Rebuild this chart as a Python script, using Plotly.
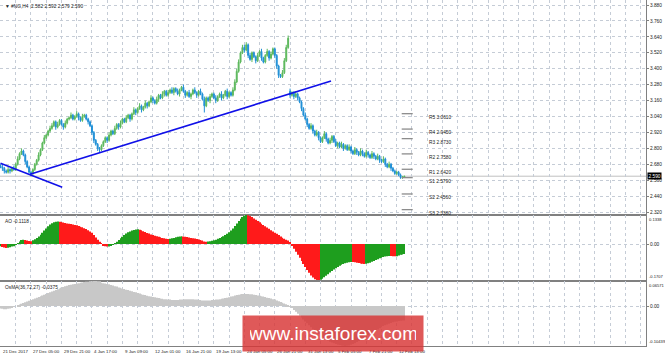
import plotly.graph_objects as go

# ---------------- DATA ----------------
closes = (
    [2.66, 2.65, 2.63, 2.62, 2.64, 2.63, 2.65, 2.64]
    + [2.68, 2.72, 2.76, 2.78, 2.75, 2.70, 2.66, 2.62, 2.61]
    + [2.64, 2.68, 2.71, 2.75, 2.79, 2.84, 2.88, 2.90, 2.93, 2.95]
    + [2.97, 3.00, 2.96, 2.98, 3.01, 2.98, 2.96, 2.99, 3.02]
    + [3.03, 3.05, 3.02, 3.04, 3.06, 3.03, 3.01, 3.04, 3.05, 3.02, 3.00, 2.97]
    + [2.92, 2.86, 2.83, 2.80, 2.79, 2.82]
    + [2.85, 2.88, 2.86, 2.90, 2.93, 2.91, 2.95, 2.98, 2.96, 2.99, 3.02, 3.00, 3.03, 3.05, 3.02]
    + [3.06, 3.09, 3.07, 3.10, 3.12, 3.09, 3.11, 3.14, 3.12, 3.15, 3.18, 3.16, 3.14, 3.17, 3.20, 3.18, 3.21, 3.23, 3.20, 3.22, 3.24]
    + [3.22, 3.25, 3.23, 3.21, 3.24, 3.26, 3.23, 3.20, 3.22, 3.19, 3.21, 3.24, 3.22, 3.20, 3.23, 3.21]
    + [3.17, 3.12, 3.18, 3.16, 3.19, 3.21, 3.18, 3.16, 3.19]
    + [3.21, 3.18, 3.20, 3.23, 3.19, 3.22, 3.20, 3.24]
    + [3.30, 3.38, 3.45, 3.52, 3.56, 3.54]
    + [3.58, 3.50, 3.47, 3.52, 3.49]
    + [3.46, 3.50, 3.53, 3.48, 3.45, 3.50]
    + [3.53, 3.48, 3.51, 3.55, 3.50, 3.42]
    + [3.35, 3.34, 3.37]
    + [3.46, 3.56, 3.63]
    + [3.20, 3.22, 3.19, 3.21, 3.18, 3.15]
    + [3.10, 3.05, 3.02, 2.98, 2.95, 2.97, 2.93, 2.90, 2.92, 2.88, 2.85]
    + [2.88, 2.91, 2.87, 2.84, 2.86, 2.89, 2.85, 2.82, 2.84, 2.81, 2.83, 2.80, 2.82]
    + [2.79, 2.81, 2.78, 2.76, 2.79, 2.77, 2.75, 2.78, 2.76, 2.74, 2.77, 2.75, 2.73, 2.76, 2.74, 2.72, 2.74, 2.71]
    + [2.70, 2.72, 2.68, 2.66, 2.68, 2.65, 2.63, 2.61, 2.62, 2.60, 2.58, 2.582, 2.590]
)
first_open = 2.67
gap_opens = {152: 3.23}

# upper / lower shadows, in hundredths of a price unit
wick_up = (
    [1, 2, 1, 1, 2, 1, 1, 2]
    + [1, 2, 1, 2, 1, 1, 1, 1, 1]
    + [1, 1, 1, 2, 1, 1, 2, 1, 1, 2]
    + [2, 1, 1, 2, 1, 1, 1, 2, 1]
    + [1, 2, 1, 1, 2, 1, 1, 2, 1, 1, 1, 1]
    + [1, 1, 1, 1, 1, 1]
    + [1, 1, 1, 2, 1, 1, 2, 1, 1, 2, 1, 1, 2, 1, 1]
    + [1, 2, 1, 1, 2, 1, 1, 2, 1, 1, 2, 1, 1, 2, 1, 1, 2, 1, 1, 2, 1]
    + [2, 1, 1, 2, 1, 1, 2, 1, 1, 2, 1, 1, 2, 1, 1, 2]
    + [1, 2, 1, 1, 2, 1, 1, 2, 1]
    + [1, 2, 1, 1, 2, 1, 1, 2]
    + [2, 2, 2, 1, 2, 2]
    + [2, 1, 2, 1, 1]
    + [1, 2, 1, 2, 1, 1]
    + [2, 1, 2, 1, 1, 1]
    + [1, 1, 2]
    + [2, 2, 2]
    + [2, 1, 1, 2, 1, 1]
    + [1, 1, 2, 1, 1, 2, 1, 1, 2, 1, 1]
    + [1, 2, 1, 1, 2, 1, 1, 2, 1, 1, 2, 1, 1]
    + [1, 2, 1, 1, 2, 1, 1, 2, 1, 1, 2, 1, 1, 2, 1, 1, 2, 1]
    + [1, 2, 1, 1, 2, 1, 1, 1, 1, 1, 1, 1, 0.2]
)
wick_dn = (
    [1, 2, 2, 1, 1, 2, 1, 1]
    + [1, 1, 1, 1, 1, 2, 1, 1, 2]
    + [1, 1, 1, 1, 1, 1, 1, 1, 1, 1]
    + [1, 1, 2, 1, 1, 1, 2, 1, 1]
    + [1, 1, 1, 1, 1, 2, 1, 1, 1, 1, 2, 1]
    + [2, 2, 1, 2, 2, 1]
    + [1, 1, 2, 1, 1, 1, 1, 1, 2, 1, 1, 1, 1, 1, 2]
    + [1, 1, 2, 1, 1, 2, 1, 1, 2, 1, 1, 2, 1, 1, 2, 1, 1, 2, 1, 1, 1]
    + [1, 2, 1, 1, 2, 1, 1, 2, 1, 1, 2, 1, 1, 2, 1, 1]
    + [1, 5, 1, 1, 2, 1, 1, 2, 1]
    + [1, 2, 1, 1, 2, 1, 1, 1]
    + [1, 1, 1, 1, 1, 2]
    + [1, 2, 1, 2, 1]
    + [2, 1, 1, 2, 1, 1]
    + [1, 2, 1, 1, 2, 2]
    + [2, 1, 1]
    + [1, 1, 1]
    + [2, 1, 2, 1, 2, 1]
    + [2, 1, 1, 2, 1, 1, 2, 1, 1, 2, 1]
    + [1, 1, 2, 1, 1, 2, 1, 1, 2, 1, 1, 2, 1]
    + [1, 1, 2, 1, 1, 2, 1, 1, 2, 1, 1, 2, 1, 1, 2, 1, 1, 2]
    + [1, 1, 2, 1, 1, 2, 1, 1, 1, 1, 1, 1, 0.3]
)

ao_values = (
    [-0.010, -0.014, -0.016, -0.018, -0.017, -0.015, -0.012, -0.010]
    + [-0.004, 0.004, 0.012, 0.018, 0.020, 0.019, 0.016, 0.014, 0.013, 0.017, 0.022, 0.028, 0.035, 0.043, 0.052, 0.062, 0.072]
    + [0.082, 0.090, 0.096, 0.100, 0.103, 0.104, 0.103, 0.101]
    + [0.099, 0.097, 0.095, 0.094, 0.092, 0.090, 0.088, 0.086, 0.083, 0.080, 0.077, 0.073, 0.069, 0.064, 0.058, 0.052, 0.042, 0.030]
    + [0.020, 0.010, 0.002, -0.006, -0.010, -0.012, -0.011, -0.008, -0.004, 0.002]
    + [0.010, 0.018, 0.026, 0.034, 0.041, 0.048, 0.054, 0.058, 0.062, 0.065, 0.067, 0.068, 0.066, 0.063, 0.059]
    + [0.055, 0.051, 0.048, 0.044, 0.041, 0.038, 0.036, 0.034, 0.031, 0.028, 0.026, 0.024, 0.023, 0.024, 0.026]
    + [0.028, 0.031, 0.033, 0.035, 0.036, 0.035, 0.034, 0.032, 0.030, 0.028, 0.026, 0.025, 0.023, 0.021]
    + [0.019, 0.016, 0.012, 0.010, 0.011, 0.013, 0.015, 0.017, 0.020]
    + [0.024, 0.028, 0.032, 0.036, 0.041, 0.047, 0.054, 0.062, 0.072, 0.083, 0.095, 0.106, 0.116, 0.124]
    + [0.130, 0.134, 0.133, 0.129]
    + [0.124, 0.118, 0.112, 0.106, 0.100, 0.094, 0.088, 0.082, 0.076, 0.070, 0.064, 0.058, 0.052, 0.047, 0.041, 0.035, 0.029, 0.024, 0.020, 0.016]
    + [0.006, -0.008, -0.022, -0.036, -0.050, -0.064, -0.078, -0.092, -0.106, -0.120, -0.133, -0.145, -0.155, -0.163, -0.168, -0.1707]
    + [-0.165, -0.160, -0.153, -0.146, -0.139, -0.132, -0.125, -0.118, -0.112, -0.106, -0.100, -0.096, -0.092, -0.089]
    + [-0.086, -0.084, -0.083, -0.083, -0.084, -0.086, -0.088, -0.090, -0.091, -0.092, -0.091, -0.089, -0.086, -0.082, -0.078, -0.074, -0.070]
    + [-0.066, -0.063, -0.060, -0.058, -0.056, -0.055, -0.055, -0.056, -0.057, -0.056, -0.053, -0.050, -0.048, -0.046]
)

osma_values = (
    [-0.006, -0.007, -0.008, -0.008, -0.007, -0.006, -0.004, -0.002, 0.000, 0.002, 0.004]
    + [0.006, 0.008, 0.010, 0.012, 0.014, 0.016, 0.018, 0.020, 0.022, 0.024, 0.026, 0.028, 0.030, 0.032, 0.034,
       0.036, 0.038, 0.040, 0.042, 0.044, 0.046, 0.048, 0.050, 0.052, 0.053, 0.055, 0.056, 0.057, 0.058, 0.059,
       0.060, 0.061, 0.062, 0.063, 0.064, 0.064, 0.065, 0.065, 0.0657, 0.0657, 0.065, 0.065]
    + [0.061, 0.060, 0.059, 0.058, 0.057, 0.055, 0.054, 0.052, 0.051, 0.049, 0.048, 0.046, 0.045, 0.043, 0.042,
       0.040, 0.039, 0.037, 0.036, 0.034, 0.033, 0.031, 0.030, 0.029, 0.027, 0.026, 0.025, 0.024, 0.023, 0.022,
       0.021, 0.020, 0.019, 0.018, 0.018, 0.017, 0.017, 0.016]
    + [0.016, 0.016, 0.016, 0.017, 0.017, 0.017, 0.018, 0.018, 0.018, 0.018, 0.018, 0.017, 0.017, 0.016, 0.016,
       0.015, 0.015, 0.015, 0.015, 0.015, 0.016, 0.016, 0.017, 0.017, 0.018, 0.019, 0.020, 0.021, 0.022, 0.023,
       0.025, 0.026, 0.028, 0.029, 0.030, 0.031]
    + [0.032, 0.032, 0.032, 0.032, 0.031, 0.031, 0.030, 0.029, 0.028, 0.027, 0.026, 0.025, 0.024, 0.022, 0.021,
       0.020, 0.018, 0.017, 0.015, 0.013, 0.011, 0.009, 0.007, 0.005, 0.003]
    + [-0.001, -0.005, -0.010, -0.015, -0.020, -0.025, -0.030, -0.035, -0.040, -0.045, -0.050, -0.055, -0.060,
       -0.065, -0.069, -0.073, -0.077, -0.081, -0.084, -0.087, -0.090, -0.093, -0.095, -0.097, -0.099, -0.101,
       -0.102, -0.103, -0.104, -0.1044]
    + [-0.104, -0.103, -0.101, -0.099, -0.097, -0.094, -0.091, -0.088, -0.085, -0.082, -0.079, -0.076, -0.073,
       -0.070, -0.067, -0.064, -0.061, -0.058, -0.055, -0.052, -0.050, -0.048, -0.046, -0.044, -0.042, -0.041,
       -0.040, -0.039, -0.038, -0.0378, -0.0375]
)

date_labels = ["21 Dec 2017", "27 Dec 05:00", "29 Dec 21:00", "4 Jan 17:00", "9 Jan 09:00",
               "12 Jan 01:00", "16 Jan 21:00", "19 Jan 13:00", "24 Jan 05:00", "26 Jan 21:00",
               "31 Jan 13:00", "5 Feb 05:00", "7 Feb 21:00", "12 Feb 13:00"]
date_label_bars = [0, 16, 32, 48, 64, 80, 96, 112, 128, 144, 160, 176, 192, 208]

price_ticks = [3.880, 3.760, 3.640, 3.520, 3.400, 3.280, 3.160, 3.040, 2.920, 2.800, 2.680, 2.560, 2.440, 2.320]

pivot_names = ["R5", "R4", "R3", "R2", "R1", "S1", "S2", "S3"]
pivot_values = [3.0610, 2.9450, 2.8730, 2.7580, 2.6420, 2.5790, 2.4560, 2.3380]

trend_down_x = [0.0, 32.4]
trend_down_y = [2.687, 2.506]
trend_up_x = [15.5, 173.5]
trend_up_y = [2.604, 3.307]

title_text = "▼ #NG,H4  2.582 2.592 2.579 2.590"
ao_label = "AO -0.1118"
osma_label = "OsMA(36,72,27) -0.0375"
ao_top_label, ao_bottom_label = "0.1338", "-0.1707"
osma_top_label, osma_bottom_label = "0.06571", "-0.10439"
last_price = 2.590

n = len(closes)
assert len(wick_up) == n and len(wick_dn) == n and len(ao_values) == n and len(osma_values) == n, \
    (n, len(wick_up), len(wick_dn), len(ao_values), len(osma_values))

bars = list(range(n))
opens = [first_open] + closes[:-1]
for k, v in gap_opens.items():
    opens[k] = v
highs = [max(o, c) + u * 0.01 for o, c, u in zip(opens, closes, wick_up)]
lows = [min(o, c) - d * 0.01 for o, c, d in zip(opens, closes, wick_dn)]

# ---------------- STYLE / LAYOUT CONSTANTS ----------------
W, H = 665, 356
ML, MR, MT, MB = 0, 19, 0, 10
PLOT_W = W - ML - MR
PX_PER_BAR = 1.905
BAR0_PX = 0.5
X_RANGE = [-BAR0_PX / PX_PER_BAR, (PLOT_W - BAR0_PX) / PX_PER_BAR]
PLOT_H = H - MT - MB
MAIN_BOTTOM_PX, AO_BOTTOM_PX = 215, 281
DOM_MAIN = [(PLOT_H - MAIN_BOTTOM_PX) / PLOT_H, 1.0]
DOM_AO = [(PLOT_H - AO_BOTTOM_PX) / PLOT_H, DOM_MAIN[0]]
DOM_OSMA = [0.0, DOM_AO[0]]
MAIN_RANGE = [2.2975, 3.9177]
AO_RANGE = [-0.1707, 0.1338]
OSMA_RANGE = [-0.10439, 0.06571]
PIVOT_SEG = (210.6, 216.4)
PIVOT_LABEL_X = 223.7

FONT = "Liberation Sans"
FS = 4.8
FS_EDGE = 4.1
GRID = "#c5ccd6"
AXLINE = "#808080"
BULL = "#5cb85c"
BEAR = "#1f8fd6"
AO_UP = "#1e9e1e"
AO_DN = "#ff1a1a"
OSMA_C = "#c8c8c8"

fig = go.Figure()

fig.add_trace(go.Candlestick(
    x=bars, open=opens, high=highs, low=lows, close=closes,
    increasing=dict(line=dict(color=BULL, width=1), fillcolor=BULL),
    decreasing=dict(line=dict(color=BEAR, width=1), fillcolor=BEAR),
    whiskerwidth=0, showlegend=False, xaxis="x", yaxis="y", hoverinfo="skip"))

fig.add_trace(go.Scatter(x=trend_down_x, y=trend_down_y, mode="lines",
                         line=dict(color="#1010e8", width=1.6), showlegend=False, xaxis="x", yaxis="y"))
fig.add_trace(go.Scatter(x=trend_up_x, y=trend_up_y, mode="lines",
                         line=dict(color="#1010e8", width=1.6), showlegend=False, xaxis="x", yaxis="y"))

# pivot segments
px_, py_ = [], []
for v in pivot_values:
    px_ += [PIVOT_SEG[0], PIVOT_SEG[1], None]
    py_ += [v, v, None]
fig.add_trace(go.Scatter(x=px_, y=py_, mode="lines", line=dict(color="#8c8c8c", width=1.3),
                         showlegend=False, xaxis="x", yaxis="y"))

ao_colors = [AO_UP] + [AO_UP if ao_values[i] > ao_values[i - 1] else AO_DN for i in range(1, n)]
fig.add_trace(go.Bar(x=bars, y=ao_values, marker=dict(color=ao_colors, line=dict(width=0)),
                     showlegend=False, xaxis="x2", yaxis="y2"))
fig.add_trace(go.Bar(x=bars, y=osma_values, marker=dict(color=OSMA_C, line=dict(width=0)),
                     showlegend=False, xaxis="x3", yaxis="y3"))

xcommon = dict(range=X_RANGE, showgrid=True, gridcolor=GRID, griddash="dot", gridwidth=1,
               tickmode="array", tickvals=list(range(0, 340, 8)), showticklabels=False,
               showline=True, linecolor=AXLINE, linewidth=1, mirror=True, zeroline=False,
               rangeslider=dict(visible=False), fixedrange=True)

fig.update_layout(
    width=W, height=H, margin=dict(l=ML, r=MR, t=MT, b=MB),
    paper_bgcolor="white", plot_bgcolor="white", bargap=0.5,
    font=dict(family=FONT, size=FS, color="#222"),
    xaxis=dict(domain=[0, 1], anchor="y", **xcommon),
    xaxis2=dict(domain=[0, 1], anchor="y2", matches="x", **xcommon),
    xaxis3=dict(domain=[0, 1], anchor="y3", matches="x", **xcommon),
    yaxis=dict(domain=DOM_MAIN, range=MAIN_RANGE, side="right", anchor="x",
               tickmode="array", tickvals=price_ticks, ticktext=[f"{t:.3f}" for t in price_ticks],
               showgrid=True, gridcolor=GRID, griddash="dot", ticks="outside", ticklen=2,
               tickcolor=AXLINE, showline=True, linecolor=AXLINE, mirror=True, zeroline=False,
               tickfont=dict(size=FS)),
    yaxis2=dict(domain=DOM_AO, range=AO_RANGE, side="right", anchor="x2",
                tickmode="array", tickvals=[0], ticktext=["0.00"],
                showgrid=True, gridcolor=GRID, griddash="dot", ticks="outside", ticklen=2,
                tickcolor=AXLINE, showline=True, linecolor=AXLINE, mirror=True, zeroline=False,
                tickfont=dict(size=FS)),
    yaxis3=dict(domain=DOM_OSMA, range=OSMA_RANGE, side="right", anchor="x3",
                tickmode="array", tickvals=[0], ticktext=["0.00"],
                showgrid=True, gridcolor=GRID, griddash="dot", ticks="outside", ticklen=2,
                tickcolor=AXLINE, showline=True, linecolor=AXLINE, mirror=True, zeroline=False,
                tickfont=dict(size=FS)),
)

# current price line
fig.add_shape(type="line", xref="paper", x0=0, x1=1, yref="y", y0=last_price, y1=last_price,
              line=dict(color="#c0c0c0", width=1), layer="below")

ann = []
# current price tag
ann.append(dict(xref="paper", x=1.0, xanchor="left", yref="y", y=last_price, yanchor="middle",
                text=f"{last_price:.3f}", showarrow=False, bgcolor="#000", font=dict(color="white", size=FS),
                borderpad=0.5, xshift=1))
# panel labels
ann.append(dict(xref="paper", x=0.004, xanchor="left", yref="y domain", y=0.992, yanchor="top",
                text=title_text, showarrow=False, font=dict(size=FS)))
ann.append(dict(xref="paper", x=0.004, xanchor="left", yref="y2 domain", y=0.97, yanchor="top",
                text=ao_label, showarrow=False, font=dict(size=FS)))
ann.append(dict(xref="paper", x=0.004, xanchor="left", yref="y3 domain", y=0.97, yanchor="top",
                text=osma_label, showarrow=False, font=dict(size=FS)))
# edge scale labels of indicator windows
for yr, yy, anc, txt in [("y2 domain", 1, "top", ao_top_label), ("y2 domain", 0, "bottom", ao_bottom_label),
                         ("y3 domain", 1, "top", osma_top_label), ("y3 domain", 0, "bottom", osma_bottom_label)]:
    ann.append(dict(xref="paper", x=1.0, xanchor="left", xshift=0.5, yref=yr, y=yy, yanchor=anc,
                    text=txt, showarrow=False, font=dict(size=FS_EDGE)))
# pivot labels
for nm, v in zip(pivot_names, pivot_values):
    ann.append(dict(xref="x", x=PIVOT_LABEL_X, xanchor="left", yref="y", y=v, yanchor="top", yshift=1,
                    text=f"{nm} {v:.4f}", showarrow=False, font=dict(size=FS)))
# date labels
for b, t in zip(date_label_bars, date_labels):
    ann.append(dict(xref="x3", x=b, xanchor="left", xshift=0.5, yref="paper", y=-0.002, yanchor="top",
                    text=t, showarrow=False, font=dict(size=FS - 0.4)))
# watermark
ann.append(dict(xref="paper", x=333 / PLOT_W, xanchor="center", yref="paper", y=(PLOT_H - 333) / PLOT_H,
                yanchor="middle", text="www.instaforex.com", showarrow=False,
                font=dict(family="Liberation Sans", size=19, color="white"),
                bgcolor="rgba(216,52,52,0.82)", borderpad=7, width=166))
fig.update_layout(annotations=ann)

fig.write_html("out.html")
